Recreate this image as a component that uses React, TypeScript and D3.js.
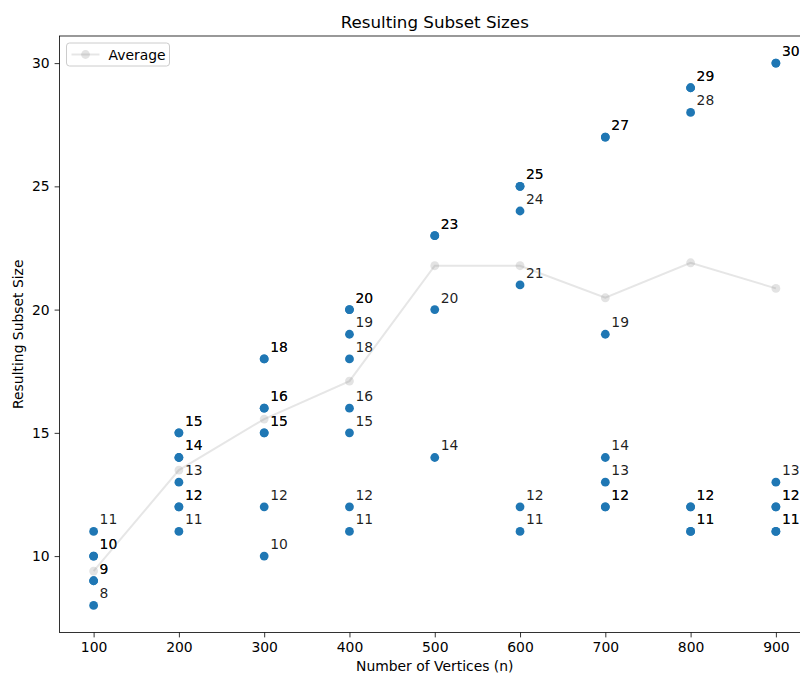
import React, { useEffect, useRef } from 'react';
import * as d3 from 'd3';

const vertexCounts = [100, 200, 300, 400, 500, 600, 700, 800, 900];
// one entry per run; repeated values overlap (drawn darker labels in the original)
const subsetSizes = [
  [8, 9, 9, 10, 10, 11],
  [11, 12, 12, 13, 14, 14, 15, 15],
  [10, 12, 15, 15, 16, 16, 18, 18],
  [11, 12, 15, 16, 18, 19, 20, 20],
  [14, 20, 23, 23],
  [11, 12, 21, 24, 25, 25],
  [12, 12, 13, 14, 19, 27, 27],
  [11, 11, 12, 12, 28, 29, 29],
  [11, 11, 12, 12, 13, 30, 30],
];
const averages = [9.39, 13.49, 15.56, 17.1, 21.78, 21.78, 20.48, 21.9, 20.86];
const xTicks = [100, 200, 300, 400, 500, 600, 700, 800, 900];
const yTicks = [10, 15, 20, 25, 30];

const W = 800;
const H = 677;
const FONT = '"DejaVu Sans", sans-serif';

export default function App() {
  const ref = useRef<SVGSVGElement>(null);

  useEffect(() => {
    const svg = d3.select(ref.current);
    svg.selectAll('*').remove();

    const left = 59.5, right = 810, top = 36, bottom = 632.5;
    const x = d3.scaleLinear().domain([60, 940]).range([left, right]);
    const y = d3.scaleLinear().domain([6.9, 31.1]).range([bottom, top]);

    const points = vertexCounts.flatMap((n, i) => subsetSizes[i].map(v => ({ n, v })));

    // scatter
    svg.append('g')
      .selectAll('circle')
      .data(points)
      .join('circle')
      .attr('cx', d => x(d.n))
      .attr('cy', d => y(d.v))
      .attr('r', 4.4)
      .attr('fill', '#1f77b4');

    // labels
    svg.append('g')
      .selectAll('text')
      .data(points)
      .join('text')
      .attr('x', d => x(d.n) + 6)
      .attr('y', d => y(d.v) - 7)
      .attr('font-family', FONT)
      .attr('font-size', 13.9)
      .attr('fill', '#000')
      .attr('fill-opacity', 0.88)
      .text(d => d.v);

    // average line
    const avgData = vertexCounts.map((n, i) => ({ n, v: averages[i] }));
    const line = d3.line<{ n: number; v: number }>().x(d => x(d.n)).y(d => y(d.v));
    svg.append('path')
      .datum(avgData)
      .attr('d', line)
      .attr('fill', 'none')
      .attr('stroke', 'gray')
      .attr('stroke-opacity', 0.2)
      .attr('stroke-width', 2);
    svg.append('g')
      .selectAll('circle')
      .data(avgData)
      .join('circle')
      .attr('cx', d => x(d.n))
      .attr('cy', d => y(d.v))
      .attr('r', 4.4)
      .attr('fill', 'gray')
      .attr('fill-opacity', 0.22);

    // axes
    const xAxis = d3.axisBottom(x).tickValues(xTicks).tickSize(4.9).tickPadding(4.9);
    const yAxis = d3.axisLeft(y).tickValues(yTicks).tickSize(4.9).tickPadding(4.9);
    const gx = svg.append('g').attr('transform', `translate(0,${bottom})`).call(xAxis);
    const gy = svg.append('g').attr('transform', `translate(${left},0)`).call(yAxis);
    [gx, gy].forEach(g => {
      g.select('.domain').remove();
      g.selectAll('line').attr('stroke', '#000').attr('stroke-width', 0.8);
      g.selectAll('text').attr('font-family', FONT).attr('font-size', 13.9).attr('fill', '#000');
    });

    svg.append('rect')
      .attr('x', left).attr('y', top)
      .attr('width', right - left).attr('height', bottom - top)
      .attr('fill', 'none').attr('stroke', '#000').attr('stroke-width', 0.8);

    // title & axis labels
    const cx = (left + right) / 2;
    svg.append('text')
      .attr('x', cx).attr('y', 28)
      .attr('text-anchor', 'middle')
      .attr('font-family', FONT).attr('font-size', 16.7)
      .text('Resulting Subset Sizes');
    svg.append('text')
      .attr('x', cx).attr('y', 671)
      .attr('text-anchor', 'middle')
      .attr('font-family', FONT).attr('font-size', 13.9)
      .text('Number of Vertices (n)');
    svg.append('text')
      .attr('transform', `translate(23,${(top + bottom) / 2}) rotate(-90)`)
      .attr('text-anchor', 'middle')
      .attr('font-family', FONT).attr('font-size', 13.9)
      .text('Resulting Subset Size');

    // legend
    const lg = svg.append('g').attr('transform', `translate(66.5,43)`);
    lg.append('rect')
      .attr('width', 103).attr('height', 23).attr('rx', 3)
      .attr('fill', '#fff').attr('fill-opacity', 0.8)
      .attr('stroke', '#ccc').attr('stroke-width', 1);
    lg.append('line')
      .attr('x1', 5).attr('x2', 33).attr('y1', 11.5).attr('y2', 11.5)
      .attr('stroke', 'gray').attr('stroke-opacity', 0.2).attr('stroke-width', 2);
    lg.append('circle')
      .attr('cx', 19).attr('cy', 11.5).attr('r', 4.4)
      .attr('fill', 'gray').attr('fill-opacity', 0.22);
    lg.append('text')
      .attr('x', 42).attr('y', 16.5)
      .attr('font-family', FONT).attr('font-size', 13.9)
      .text('Average');
  }, []);

  return (
    <svg
      ref={ref}
      width={W}
      height={H}
      style={{ position: 'absolute', left: 0, top: 0, background: '#fff' }}
    />
  );
}
